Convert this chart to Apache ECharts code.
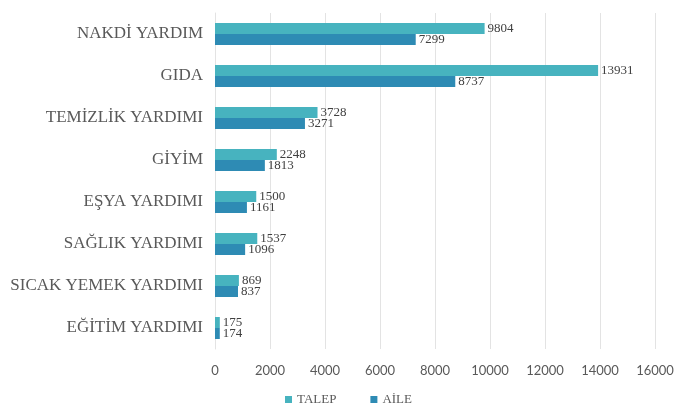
<!DOCTYPE html>
<html>
<head>
<meta charset="utf-8">
<script src="https://cdn.jsdelivr.net/npm/echarts@6/dist/echarts.min.js"></script>
<style>
  html, body { margin: 0; padding: 0; background: #fff; }
  #chart { width: 687px; height: 414px; }
</style>
</head>
<body>
<div id="chart"></div>
<script>
// kategoriler ve değerler
const categories = ['NAKDİ YARDIM', 'GIDA', 'TEMİZLİK YARDIMI', 'GİYİM', 'EŞYA YARDIMI', 'SAĞLIK YARDIMI', 'SICAK YEMEK YARDIMI', 'EĞİTİM YARDIMI'];
const talep = [9804, 13931, 3728, 2248, 1500, 1537, 869, 175];
const aile = [7299, 8737, 3271, 1813, 1161, 1096, 837, 174];

const chart = echarts.init(document.getElementById('chart'));

const labelStyle = {
  show: true,
  position: 'right',
  distance: 3,
  fontFamily: 'Liberation Serif',
  fontSize: 13,
  color: '#404040'
};

chart.setOption({
  animation: false,
  textStyle: { fontFamily: 'Liberation Serif' },
  grid: { left: 215, right: 32, top: 13, bottom: 65 },
  legend: {
    bottom: 3,
    left: 280,
    itemWidth: 7,
    itemHeight: 7,
    itemGap: 34,
    icon: 'rect',
    textStyle: { fontFamily: 'Liberation Serif', fontSize: 13, color: '#595959' },
    data: ['TALEP', 'AİLE']
  },
  xAxis: {
    type: 'value',
    min: 0,
    max: 16000,
    interval: 2000,
    axisLine: { show: false },
    axisTick: { show: false },
    axisLabel: {
      fontFamily: 'Lato', fontSize: 13, color: '#595959', margin: 15,
      formatter: (v) => String(v)
    },
    splitLine: { lineStyle: { color: '#e3e3e3', width: 1 } }
  },
  yAxis: {
    type: 'category',
    inverse: true,
    data: categories,
    axisLine: { show: true, lineStyle: { color: '#e3e3e3' } },
    axisTick: { show: false },
    axisLabel: { fontFamily: 'Liberation Serif', fontSize: 17, color: '#595959', margin: 12 }
  },
  series: [
    {
      name: 'TALEP',
      type: 'bar',
      data: talep,
      barWidth: 11,
      barGap: '0%',
      itemStyle: { color: '#47b3bf' },
      label: labelStyle
    },
    {
      name: 'AİLE',
      type: 'bar',
      data: aile,
      barWidth: 11,
      barGap: '0%',
      itemStyle: { color: '#2e8bb4' },
      label: labelStyle
    }
  ]
});
</script>
</body>
</html>
